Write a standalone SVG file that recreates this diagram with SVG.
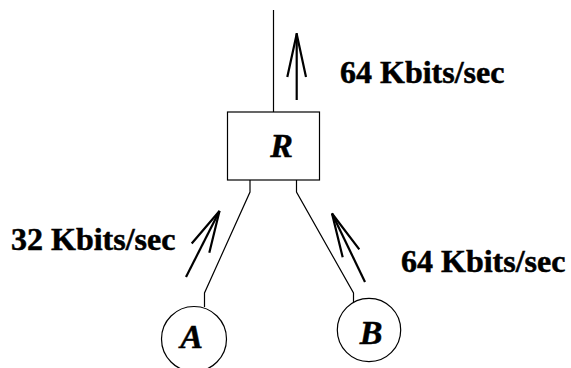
<svg xmlns="http://www.w3.org/2000/svg" width="571" height="368" viewBox="0 0 571 368">
  <style>
    .wire { fill: none; stroke: #000; stroke-width: 1.2; }
    .flow { fill: none; stroke: #000; stroke-width: 2.2; stroke-linecap: butt; }
    .shape { fill: #fff; stroke: #000; stroke-width: 1.2; }
    .rate { font-family: "Liberation Serif", "Times New Roman", serif; font-weight: bold; font-size: 32px; fill: #000; stroke: #000; stroke-width: 0.5; }
    .name { font-family: "Liberation Serif", "Times New Roman", serif; font-weight: bold; font-style: italic; font-size: 34px; fill: #000; stroke: #000; stroke-width: 0.5; text-anchor: middle; }
  </style>
  <rect width="571" height="368" fill="#fff"/>

  <!-- links between the hosts and the router -->
  <g id="connectors">
    <line class="wire" x1="273.5" y1="10" x2="273.5" y2="112"/>
    <polyline class="wire" points="250,180 250,192 204.5,293 204.5,307"/>
    <polyline class="wire" points="296.5,180 296.5,192 353.5,293 353.5,303"/>
  </g>

  <!-- traffic direction arrows with open heads -->
  <g id="flows">
    <line class="flow" x1="296.7" y1="100" x2="296.7" y2="33"/>
    <polyline class="flow" points="287.3,77 296.7,34 306,77"/>
    <line class="flow" x1="186" y1="277" x2="219.5" y2="211"/>
    <polyline class="flow" points="191.7,243.5 219.5,211 209.3,252.7"/>
    <line class="flow" x1="365" y1="282" x2="332" y2="213.5"/>
    <polyline class="flow" points="342.7,257.3 332,213.5 359.3,249.3"/>
  </g>

  <g id="router">
    <rect class="shape" x="227.5" y="112" width="92" height="68"/>
    <text class="name" x="281.5" y="156.5">R</text>
  </g>

  <g id="hostA">
    <circle class="shape" cx="194" cy="339" r="32.5"/>
    <text class="name" x="191.5" y="348">A</text>
  </g>

  <g id="hostB">
    <circle class="shape" cx="369" cy="330" r="31.7"/>
    <text class="name" x="371" y="344">B</text>
  </g>

  <g id="labels">
    <text class="rate" x="340" y="83">64 Kbits/sec</text>
    <text class="rate" x="11" y="250">32 Kbits/sec</text>
    <text class="rate" x="401" y="272">64 Kbits/sec</text>
  </g>
</svg>
